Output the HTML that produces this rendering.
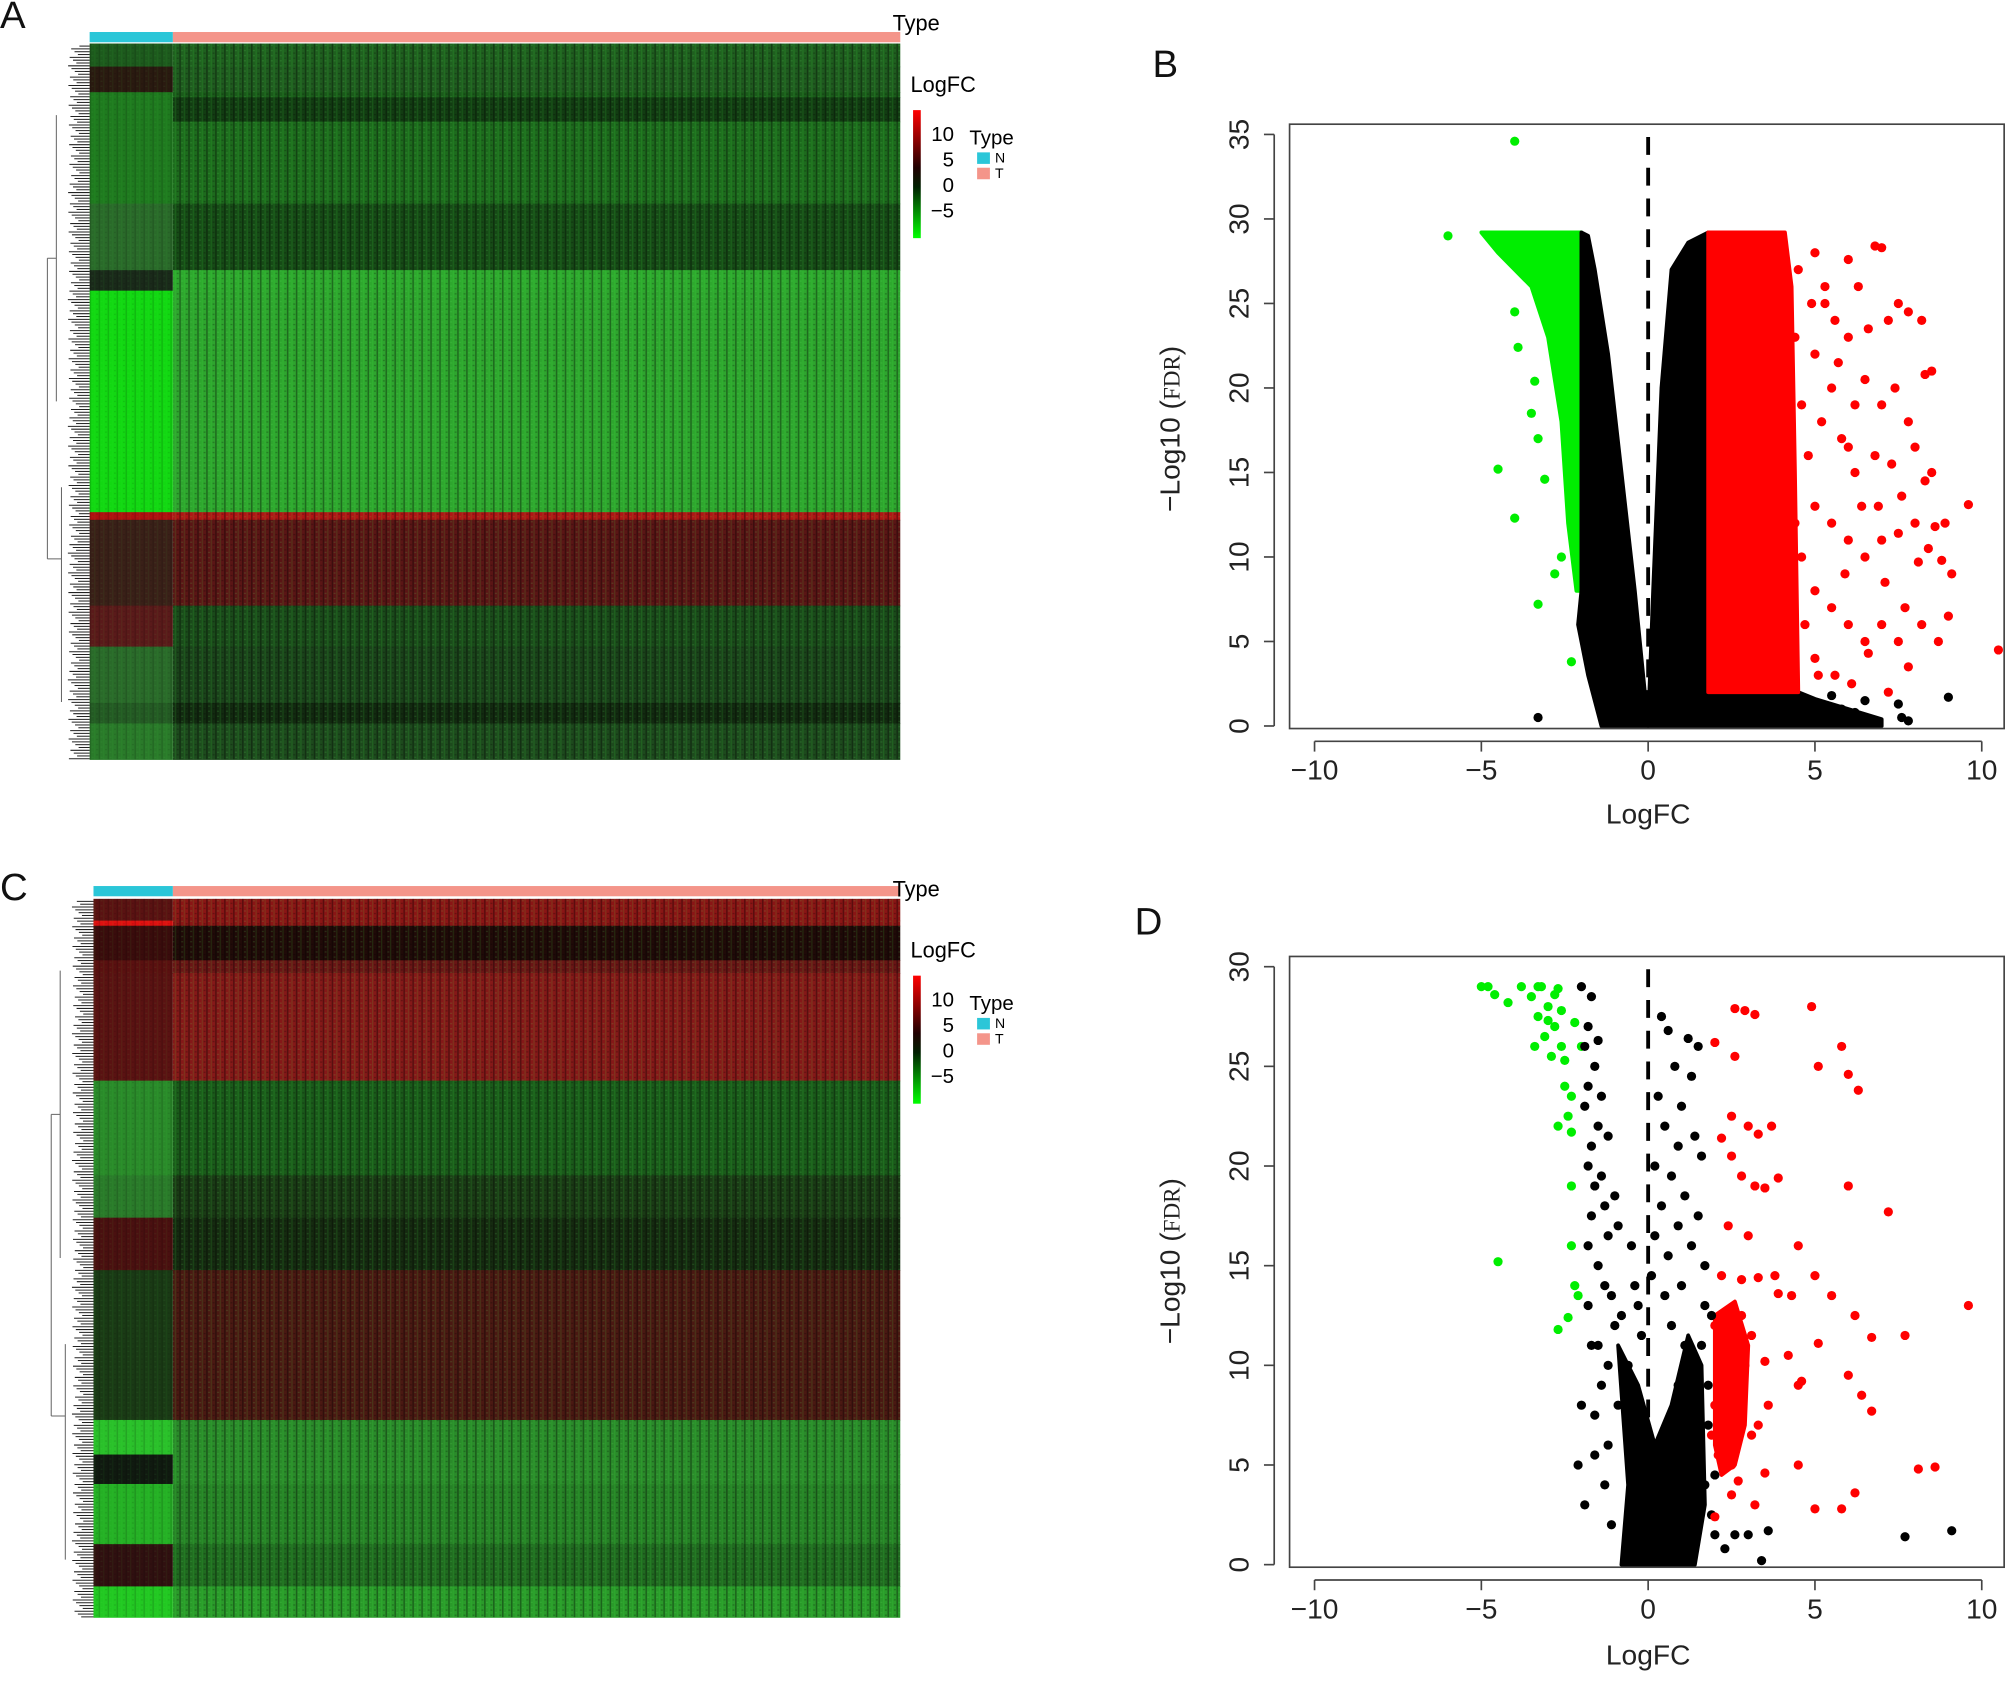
<!DOCTYPE html>
<html><head><meta charset="utf-8"><style>
html,body{margin:0;padding:0;background:#fff;}
svg{display:block;}
text{font-family:"Liberation Sans",sans-serif;}
</style></head><body>
<svg id="fig" width="2008" height="1685" viewBox="0 0 1568 1316" preserveAspectRatio="none" xmlns="http://www.w3.org/2000/svg">
<defs>
<pattern id="stripes" width="7" height="4" patternUnits="userSpaceOnUse">
<rect x="0" y="0" width="1.2" height="4" fill="#000" opacity="0.35"/>
<rect x="3.5" y="0" width="1" height="4" fill="#4f4" opacity="0.12"/>
<rect x="5" y="1" width="1.5" height="1" fill="#000" opacity="0.25"/>
<rect x="1.5" y="3" width="1.5" height="1" fill="#6f6" opacity="0.15"/>
</pattern>
<linearGradient id="cbar" x1="0" y1="0" x2="0" y2="1">
<stop offset="0" stop-color="#ff0000"/><stop offset="0.45" stop-color="#200000"/>
<stop offset="0.6" stop-color="#002000"/><stop offset="1" stop-color="#00ff00"/>
</linearGradient>
</defs>
<g id="panels"></g>
</svg>
<script>
// ---------- Heatmap A data (row blocks) ----------
const hmA_rowStart = [34, 52, 72, 76, 95, 159, 211, 227, 400, 406, 473, 505, 549, 565];
const hmA_rowEnd   = [52, 72, 76, 95, 159, 211, 227, 400, 406, 473, 505, 549, 565, 593];
const hmA_colorN   = ['#1d5a1d','#2a1a10','#1f7a1f','#1f7a1f','#1f7a1f','#2a6a2a','#1a2a1a','#12d812','#b01010','#3a2018','#5a1a1a','#2a6a2a','#245a24','#2a7a2a'];
const hmA_colorT   = ['#1f5f1f','#1f5a1f','#1a5a1a','#123c12','#1d6a1d','#164a16','#2ea82e','#2ea52e','#b01515','#5a1515','#1a4a1a','#1a421a','#122a10','#1d4a1d'];
// ---------- Heatmap C data ----------
const hmC_rowStart = [702, 719, 723, 750, 760, 844, 918, 951, 992, 1109, 1136, 1159, 1206, 1239];
const hmC_rowEnd   = [719, 723, 750, 760, 844, 918, 951, 992, 1109, 1136, 1159, 1206, 1239, 1263];
const hmC_colorN   = ['#5a1212','#e01010','#3a0c0c','#5a1010','#5a1212','#2a8a2a','#2a7a2a','#4a1010','#1a3a15','#2ac02a','#101a10','#25b025','#301010','#22c822'];
const hmC_colorT   = ['#8a1515','#8a1515','#200a08','#6a1515','#851818','#1a5a1a','#1a3a15','#152a10','#4a1812','#2a8a2a','#2a8a2a','#268026','#206a20','#2a9a2a'];

// ---------- Volcano B data ----------
const volB_green = [[-4,34.6],[-6,29],[-4.5,15.2],[-4,12.3],[-3.3,7.2],[-2.3,3.8],[-3.9,22.4],[-4,24.5],[-3.5,18.5],[-3.3,17],[-3.4,20.4],[-2.6,10],[-2.8,9],[-3.1,14.6],[-3.6,26.5]];
const volB_red = [[4.5,27],[5,28],[5.3,26],[5.6,24],[6,27.6],[6.3,26],[6.8,28.4],[7,28.3],[7.5,25],[7.8,24.5],[8.2,24],[5,22],[5.5,20],[6,23],[6.5,20.5],[7,19],[7.4,20],[8.3,20.8],[8.5,21],[5.2,18],[5.8,17],[6.2,15],[6.8,16],[7.3,15.5],[7.8,18],[8,16.5],[8.3,14.5],[8.5,15],[9.6,13.1],[5,13],[5.5,12],[6,11],[6.5,10],[7,11],[7.5,11.4],[8,12],[8.6,11.8],[8.8,9.8],[9.1,9],[5,8],[5.5,7],[6,6],[6.5,5],[7,6],[7.5,5],[7.8,3.5],[8.2,6],[8.7,5],[9,6.5],[10.5,4.5],[5,4],[5.6,3],[6.1,2.5],[6.6,4.3],[7.2,2],[4.8,16],[4.6,10],[4.7,6],[4.4,23],[5.9,9],[6.4,13],[7.1,8.5],[7.7,7],[8.1,9.7],[5.3,25],[6.2,19],[6.9,13],[7.6,13.6],[8.4,10.5],[8.9,12],[5.1,3],[4.4,12],[4.6,19],[4.9,25],[5.7,21.5],[6.6,23.5],[7.2,24],[6,16.5]];
const volB_black = [[-3.3,0.5],[-1.5,2.4],[5.5,1.8],[6.5,1.5],[7.5,1.3],[9,1.7],[7.8,0.3],[6.9,0.2],[7.6,0.5],[5.8,1],[6.2,0.8],[5,1.2],[4.7,0.6]];
const volB_denseGreen = [[-5,29.2],[-4.5,28],[-3.5,26],[-3,23],[-2.6,18],[-2.4,12],[-2.15,8],[-2,8],[-2,29.2]];
const volB_denseBlackL = [[-2,29.2],[-1.8,29],[-1.6,27],[-1.2,22],[-0.8,15],[-0.4,8],[-0.1,2],[0,0],[-1.4,0],[-1.8,3],[-2.1,6],[-2,8]];
const volB_denseBlackR = [[0,0],[0.15,8],[0.4,20],[0.7,27],[1.2,28.6],[1.8,29.2],[1.8,2],[4.5,2],[5,1.6],[6,1],[7,0.4],[7,0]];
const volB_denseRed = [[1.8,29.2],[4.1,29.2],[4.3,26],[4.4,15],[4.5,2],[1.8,2]];

// ---------- Volcano D data ----------
const volD_green = [[-5,29],[-4.8,29],[-4.6,28.6],[-4.2,28.2],[-3.8,29],[-3.5,28.5],[-3.2,29],[-3,28],[-2.8,27],[-2.6,26],[-3.3,27.5],[-3.1,26.5],[-2.9,25.5],[-2.5,24],[-2.3,23.5],[-2.7,22],[-2.3,21.7],[-2.5,25.3],[-2.2,27.2],[-4.5,15.2],[-2.3,19],[-2.1,13.5],[-2.7,11.8],[-2.4,12.4],[-2.3,16],[-2.2,14],[-2.4,22.5],[-2.8,28.6],[-2.6,27.8],[-2.0,26],[-3.4,26],[-3,27.3],[-2.7,28.9],[-3.3,29]];
const volD_red = [[2,26.2],[2.6,27.9],[2.9,27.8],[3.2,27.6],[2.6,25.5],[4.9,28],[5.1,25],[5.8,26],[6,24.6],[6.3,23.8],[2.5,22.5],[3,22],[3.3,21.6],[3.7,22],[2.2,21.4],[2.5,20.5],[2.8,19.5],[3.2,19],[3.5,18.9],[3.9,19.4],[6,19],[7.2,17.7],[2.4,17],[3,16.5],[4.5,16],[5,14.5],[5.5,13.5],[6.2,12.5],[6.7,11.4],[7.7,11.5],[9.6,13],[3.8,14.5],[4.3,13.5],[5.1,11.1],[6,9.5],[6.4,8.5],[6.7,7.7],[4.5,5],[8.1,4.8],[8.6,4.9],[6.2,3.6],[5.8,2.8],[5,2.8],[3.5,4.6],[2.5,3.5],[3.2,3],[4.5,9],[3.6,8],[3.3,7],[3.5,10.2],[4.2,10.5],[4.6,9.2],[2,2.4],[2.2,14.5],[2.8,14.3],[3.3,14.4],[3.9,13.6],[2.1,5.5],[2.7,4.2],[2.4,9],[3.1,6.5],[2,12],[2.3,11],[2.9,10],[2,8],[2.6,7],[1.9,6.5],[2.8,12.5],[3.1,11.5],[2.2,6],[2.5,5]];
const volD_denseRed = [[2.0,12.5],[2.6,13.2],[3.0,11],[2.9,7],[2.6,5],[2.2,4.5],[2.0,6]];
const volD_black = [[-2,29],[-1.7,28.5],[-1.8,27],[-1.9,26],[-1.5,26.3],[-1.6,25],[-1.8,24],[-1.4,23.5],[-1.9,23],[-1.5,22],[-1.7,21],[-1.2,21.5],[-1.8,20],[-1.4,19.5],[-1.6,19],[-1,18.5],[-1.3,18],[-1.7,17.5],[-0.9,17],[-1.2,16.5],[-1.8,16],[-0.5,16],[-1.5,15],[0.4,27.5],[0.6,26.8],[1.2,26.4],[1.5,26],[0.8,25],[1.3,24.5],[0.3,23.5],[1,23],[0.5,22],[1.4,21.5],[0.9,21],[0.2,20],[1.6,20.5],[0.7,19.5],[1.1,18.5],[0.4,18],[1.5,17.5],[0.9,17],[0.2,16.5],[1.3,16],[0.6,15.5],[1.7,15],[0.1,14.5],[1,14],[-0.3,13],[1.9,12.5],[2,1.5],[2.6,1.5],[3,1.5],[3.6,1.7],[3.4,0.2],[7.7,1.4],[9.1,1.7],[2.3,0.8],[-2,8],[-2.1,5],[-1.9,3],[-1.7,11],[-1.8,13],[-1.4,9],[-1.2,6],[-1,12],[-0.6,10],[1.6,11],[1.8,9],[1.5,7],[1.2,5],[1.7,4],[0.9,9],[-1.3,14],[-1.1,13.5],[-0.8,12.5],[-1.5,11],[-1.2,10],[-0.9,8],[-1.6,7.5],[-1.3,4],[-1.6,5.5],[-1.1,2],[1.9,2.5],[1.5,3],[2.0,4.5],[1.8,7],[1.4,9.5],[1.1,11],[0.7,12],[1.7,13],[0.5,13.5],[-0.2,11.5],[-0.4,14]];
const volD_denseBlack = [[-0.9,11],[-0.6,4],[-0.8,0],[1.4,0],[1.7,3],[1.6,10],[1.2,11.5],[0.7,8],[0.2,6],[-0.3,9]];

const ticksX = [-10,-5,0,5,10];
const ticksYB = [0,5,10,15,20,25,30,35];
const ticksYD = [0,5,10,15,20,25,30];

const NS='http://www.w3.org/2000/svg';
const root=document.getElementById('panels');
function mk(tag,attrs,parent){const e=document.createElementNS(NS,tag);for(const k in attrs)e.setAttribute(k,attrs[k]);(parent||root).appendChild(e);return e;}

function heatmap(x0,xN,x1,starts,ends,colN,colT,barY,label){
  const grp=mk('g',{});
  
  
  for(let i=0;i<starts.length;i++){
    const rn=mk('rect',{x:x0,y:starts[i],width:xN-x0,height:ends[i]-starts[i]+0.5,fill:colN[i]},grp);
    
    
    const rt=mk('rect',{x:xN,y:starts[i],width:x1-xN,height:ends[i]-starts[i]+0.5,fill:colT[i]},grp);
    
    
  }
  const top=starts[0],bot=ends[ends.length-1];
  mk('rect',{x:xN,y:top,width:x1-xN,height:bot-top,fill:'url(#stripes)'},grp);
  mk('rect',{x:x0,y:top,width:xN-x0,height:bot-top,fill:'url(#stripes)',opacity:0.4},grp);
  const bn=mk('rect',{x:x0,y:barY,width:xN-x0,height:8,fill:'#2bc6d8'});
  
  
  const bt=mk('rect',{x:xN,y:barY,width:x1-xN,height:8,fill:'#f4958a'});
  
  
  const dg=mk('g',{stroke:'#666','stroke-width':0.8,fill:'none'});
  
  
  for(let y=top+2;y<bot;y+=2.2){mk('line',{x1:x0-8-((y*7)%9),y1:y,x2:x0,y2:y,stroke:'#222'},dg);}
  const h=bot-top;
  const a=top+h*0.3,b=top+h*0.72;
  const L=x0-33;
  mk('path',{d:`M${L} ${a} V${b} M${L} ${a} H${x0-26} M${L} ${b} H${x0-22} M${x0-26} ${top+h*0.1} V${top+h*0.5} M${x0-22} ${top+h*0.62} V${top+h*0.92}`},dg);
}
heatmap(70,135,703,hmA_rowStart,hmA_rowEnd,hmA_colorN,hmA_colorT,25,'a');
heatmap(73,135,703,hmC_rowStart,hmC_rowEnd,hmC_colorN,hmC_colorT,692,'c');

function legend(y0,lab){
  const g=mk('g',{});
  
  
  const t=mk('text',{x:697,y:y0-48,'font-size':17},g);t.textContent='Type';
  const l=mk('text',{x:711,y:y0,'font-size':17,'font-family':'Liberation Serif, serif'},g);l.textContent='LogFC';
  mk('rect',{x:713,y:y0+14,width:6,height:100,fill:'url(#cbar)'},g);
  [['10',32],['5',52],['0',72],['\u22125',92]].forEach(([s,d])=>{const tt=mk('text',{x:745,y:y0+d+6,'font-size':16,'text-anchor':'end'},g);tt.textContent=s;});
  const ty=mk('text',{x:757,y:y0+41,'font-size':16},g);ty.textContent='Type';
  mk('rect',{x:763,y:y0+47,width:10,height:9,fill:'#2bc6d8'},g);
  mk('rect',{x:763,y:y0+59,width:10,height:9,fill:'#f4958a'},g);
  const n=mk('text',{x:777,y:y0+55,'font-size':11},g);n.textContent='N';
  const tt=mk('text',{x:777,y:y0+67,'font-size':11},g);tt.textContent='T';
}
legend(72,'a');legend(748,'c');

function volcano(lab,yTop,yZero,yMaxVal,ticksY,sets,dense,xLabY,labY){
  const sx=v=>1287+v*26.05;
  const sy=v=>yZero-v*((yZero-yTop)/yMaxVal);
  const g=mk('g',{});
  
  
  dense.forEach(([pts,col])=>{
    const p=mk('polygon',{points:pts.map(q=>sx(q[0])+','+sy(q[1])).join(' '),fill:col,stroke:col,'stroke-width':3,'stroke-linejoin':'round'},g);
    
    
  });
  sets.forEach(([pts,col])=>pts.forEach(q=>{
    const c=mk('circle',{cx:sx(q[0]),cy:sy(q[1]),r:3.6,fill:col},g);
    
    
  }));
  const dl=mk('line',{x1:sx(0),y1:sy(yMaxVal)+2,x2:sx(0),y2:yZero,stroke:'#000','stroke-width':3,'stroke-dasharray':'14 10'},g);
  
  
  const box=mk('rect',{x:1007,y:yTop-8,width:558,height:yZero-yTop+10,fill:'none',stroke:'#444','stroke-width':1.3},g);
  
  
  const ax=mk('g',{},g);
  
  
  mk('line',{x1:sx(-10),y1:yZero+12,x2:sx(10),y2:yZero+12,stroke:'#444','stroke-width':1.3},ax);
  ticksX.forEach(v=>{mk('line',{x1:sx(v),y1:yZero+12,x2:sx(v),y2:yZero+20,stroke:'#444','stroke-width':1.3},ax);
    const t=mk('text',{x:sx(v),y:yZero+42,'font-size':22,'text-anchor':'middle',fill:'#222'},ax);t.textContent=(v<0?'\u2212'+(-v):v);});
  const xl=mk('text',{x:1287,y:xLabY,'font-size':22,'text-anchor':'middle',fill:'#222'},g);xl.textContent='LogFC';
  
  
  const ay=mk('g',{},g);
  
  
  mk('line',{x1:995,y1:sy(0),x2:995,y2:sy(ticksY[ticksY.length-1]),stroke:'#444','stroke-width':1.3},ay);
  ticksY.forEach(v=>{mk('line',{x1:987,y1:sy(v),x2:995,y2:sy(v),stroke:'#444','stroke-width':1.3},ay);
    const t=mk('text',{x:975,y:sy(v),'font-size':22,'text-anchor':'middle',fill:'#222',transform:`rotate(-90 975 ${sy(v)})`},ay);t.textContent=v;});
  const yl=mk('text',{x:921,y:labY,'font-size':22,'text-anchor':'middle',fill:'#222',transform:`rotate(-90 921 ${labY})`},g);
  
  
  yl.innerHTML='\u2212Log10 (<tspan font-family="Liberation Serif, serif" font-size="18">FDR</tspan>)';
}
volcano('b',105,567,35,ticksYB,[[volB_green,'#00ee00'],[volB_red,'#ff0000'],[volB_black,'#000']],
  [[volB_denseGreen,'#00ee00'],[volB_denseBlackL,'#000'],[volB_denseBlackR,'#000'],[volB_denseRed,'#ff0000']],643,335);
volcano('d',755,1222,30,ticksYD,[[volD_green,'#00ee00'],[volD_black,'#000'],[volD_red,'#ff0000']],
  [[volD_denseBlack,'#000'],[volD_denseRed,'#ff0000']],1300,985);

[['A',0,22],['B',900,60],['C',0,703],['D',886,730]].forEach(([s,x,y])=>{
  const t=mk('text',{x:x,y:y,'font-size':30,fill:'#111'});t.textContent=s;
  
  
});
</script>
</body></html>
